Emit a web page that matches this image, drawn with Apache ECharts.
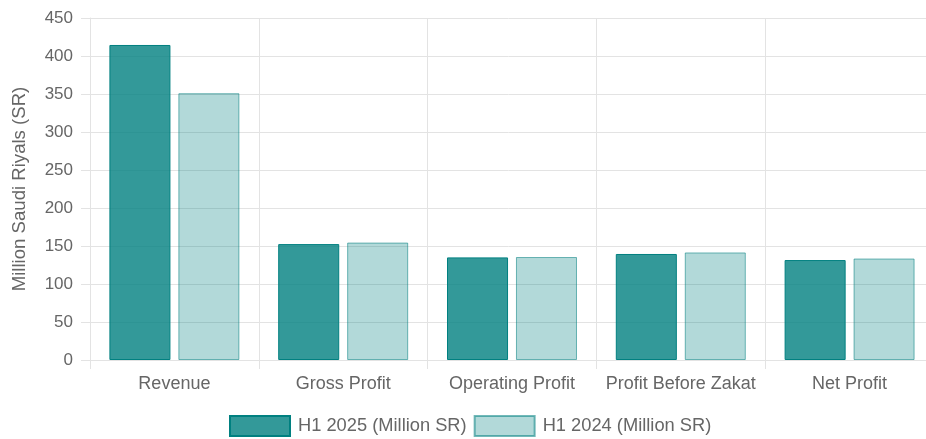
<!DOCTYPE html>
<html><head><meta charset="utf-8">
<script src="https://cdn.jsdelivr.net/npm/echarts@6/dist/echarts.min.js"></script>
<style>html,body{margin:0;padding:0;background:#fff}#c{width:926px;height:439px}</style>
</head><body><div id="c"></div>
<script>
const categories = ["Revenue", "Gross Profit", "Operating Profit", "Profit Before Zakat", "Net Profit"];
const h1_2025 = [414.5, 152.5, 135, 139.5, 131.5];
const h1_2024 = [351, 154.5, 135.5, 141.5, 133.5];
const yTicks = {min: 0, max: 450, interval: 50};
const seriesNames = ["H1 2025 (Million SR)", "H1 2024 (Million SR)"];

const chart = echarts.init(document.getElementById('c'), null, {renderer: 'canvas'});
const font = '"Liberation Sans", Arial, sans-serif';
const grid = '#e3e3e3';
chart.setOption({
  animation: false,
  grid: {left: 90, top: 18, height: 342, width: 844, containLabel: false, outerBoundsMode: 'none'},
  legend: {
    bottom: 2, left: 229, itemWidth: 60, itemHeight: 20, itemGap: 7, padding: 0,
    textStyle: {fontFamily: font, fontSize: 18.3, color: '#666', padding: [0, 0, 0, 3]},
    data: seriesNames, icon: 'rect'
  },
  xAxis: {
    type: 'category', data: categories,
    axisLine: {show: true, lineStyle: {color: grid}},
    axisTick: {show: true, length: 9, interval: 0, lineStyle: {color: grid}},
    splitLine: {show: true, interval: 0, lineStyle: {color: grid}},
    axisLabel: {fontFamily: font, fontSize: 18, color: '#666', margin: 15, interval: 0}
  },
  yAxis: {
    type: 'value', min: yTicks.min, max: yTicks.max, interval: yTicks.interval,
    name: 'Million Saudi Riyals (SR)', nameLocation: 'middle', nameGap: 61,
    nameTextStyle: {fontFamily: font, fontSize: 18.6, color: '#666'},
    axisLine: {show: true, lineStyle: {color: grid}},
    axisTick: {show: true, length: 9, lineStyle: {color: grid}},
    splitLine: {show: true, lineStyle: {color: grid}},
    axisLabel: {fontFamily: font, fontSize: 17, color: '#666', margin: 17}
  },
  series: [
    {name: seriesNames[0], type: 'bar', data: h1_2025, barGap: '13%', barCategoryGap: '23%',
     itemStyle: {color: 'rgba(0,128,128,0.8)', borderColor: 'rgba(0,128,128,1)', borderWidth: 1}},
    {name: seriesNames[1], type: 'bar', data: h1_2024,
     itemStyle: {color: 'rgba(0,128,128,0.3)', borderColor: 'rgba(0,128,128,0.55)', borderWidth: 1}}
  ]
});
</script></body></html>
